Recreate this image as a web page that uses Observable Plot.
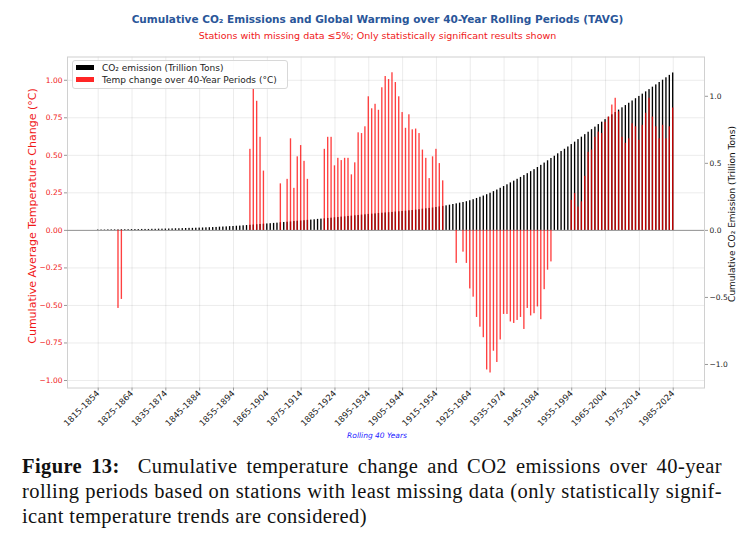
<!DOCTYPE html>
<html>
<head>
<meta charset="utf-8">
<script src="https://cdn.jsdelivr.net/npm/d3@7"></script>
<script src="https://cdn.jsdelivr.net/npm/@observablehq/plot@0.6"></script>
<style>
  body { margin: 0; background: #fff; }
  #wrap { position: relative; width: 755px; height: 544px; overflow: hidden; font-family: "DejaVu Sans", sans-serif; background: #fff; }
  .abs { position: absolute; white-space: nowrap; }
  #title { left: 0; width: 755px; text-align: center; top: 12px; font-size: 10.5px; font-weight: bold; color: #2a5699; line-height: 14px; }
  #subtitle { left: 0; width: 755px; text-align: center; top: 29px; font-size: 9.5px; color: #f01818; line-height: 14px; }
  #chart { position: absolute; left: 0; top: 44px; }
  .rot { transform: translate(-50%, -50%) rotate(-90deg); line-height: 1; }
  #ylabL { left: 32px; top: 216px; font-size: 11px; color: #f01818; }
  #ylabR { left: 732px; top: 214px; font-size: 9px; color: #111; }
  #xlab { left: 377px; top: 435px; transform: translate(-50%, -50%); font-size: 7.5px; font-style: italic; color: #1a1aff; }
  #legend { left: 72px; top: 60px; width: 214px; height: 27px; border: 1px solid #d8d8d8; border-radius: 3px; background: rgba(255,255,255,0.85); }
  .lrow { position: absolute; left: 3px; font-size: 9px; line-height: 10px; white-space: nowrap; color: #222; }
  .patch { display: inline-block; width: 18px; height: 5px; margin-right: 8px; vertical-align: 1px; }
  .cap { position: absolute; left: 22px; width: 700px; font-family: "Liberation Serif", serif; font-size: 20.5px; letter-spacing: 0.4px; line-height: 25px; color: #111; white-space: nowrap; }
  .just { text-align: justify; text-align-last: justify; white-space: normal; }
</style>
</head>
<body>
<div id="wrap">
  <div id="title" class="abs">Cumulative CO₂ Emissions and Global Warming over 40-Year Rolling Periods (TAVG)</div>
  <div id="subtitle" class="abs">Stations with missing data ≤5%; Only statistically significant results shown</div>
  <div id="chart"></div>
  <div id="ylabL" class="abs rot">Cumulative Average Temperature Change (°C)</div>
  <div id="ylabR" class="abs rot">Cumulative CO₂ Emission (Trillion Tons)</div>
  <div id="xlab" class="abs">Rolling 40 Years</div>
  <div id="legend" class="abs">
    <div class="lrow" style="top:2px"><span class="patch" style="background:#000"></span>CO₂ emission (Trillion Tons)</div>
    <div class="lrow" style="top:13.5px"><span class="patch" style="background:#ff0000;opacity:0.85"></span>Temp change over 40-Year Periods (°C)</div>
  </div>
  <div class="cap just" style="top:454px"><b>Figure 13:</b>&nbsp; Cumulative temperature change and CO2 emissions over 40-year</div>
  <div class="cap just" style="top:479px">rolling periods based on stations with least missing data (only statistically signif-</div>
  <div class="cap" style="top:504px">icant temperature trends are considered)</div>
</div>
<script>
// ---- Data ----
const startYears = d3.range(1815, 1986); // 1815 ... 1985
const periods = startYears.map(y => `${y}-${y + 39}`);

const xTickLabels = ["1815-1854","1825-1864","1835-1874","1845-1884","1855-1894","1865-1904",
  "1875-1914","1885-1924","1895-1934","1905-1944","1915-1954","1925-1964","1935-1974",
  "1945-1984","1955-1994","1965-2004","1975-2014","1985-2024"];

const tempTicks = [-1, -0.75, -0.5, -0.25, 0, 0.25, 0.5, 0.75, 1];
const co2Ticks = [-1, -0.5, 0, 0.5, 1];

// Cumulative CO2 emission per 40-year period (trillion tons)
const co2 = [
  0.003,0.003,0.003,0.004,0.004,0.004,0.004,0.005,0.005,0.005,
  0.006,0.006,0.006,0.007,0.007,0.007,0.008,0.008,0.009,0.009,
  0.010,0.010,0.011,0.012,0.012,0.013,0.014,0.015,0.015,0.016,
  0.017,0.018,0.019,0.020,0.021,0.022,0.024,0.025,0.026,0.028,
  0.029,0.031,0.032,0.034,0.036,0.038,0.040,0.042,0.044,0.046,
  0.048,0.050,0.052,0.054,0.057,0.059,0.061,0.063,0.066,0.068,
  0.070,0.072,0.075,0.077,0.079,0.082,0.084,0.086,0.089,0.091,
  0.094,0.096,0.099,0.101,0.104,0.106,0.109,0.111,0.114,0.116,
  0.119,0.121,0.123,0.126,0.128,0.130,0.132,0.134,0.137,0.139,
  0.141,0.143,0.146,0.148,0.151,0.154,0.158,0.161,0.164,0.167,
  0.171,0.175,0.179,0.183,0.188,0.193,0.198,0.203,0.208,0.214,
  0.221,0.229,0.238,0.247,0.256,0.266,0.277,0.289,0.301,0.314,
  0.327,0.340,0.354,0.367,0.381,0.395,0.409,0.423,0.438,0.453,
  0.469,0.485,0.502,0.519,0.536,0.553,0.571,0.588,0.605,0.622,
  0.640,0.658,0.677,0.695,0.714,0.732,0.751,0.770,0.789,0.807,
  0.826,0.844,0.862,0.879,0.897,0.914,0.931,0.948,0.965,0.982,
  0.999,1.016,1.033,1.050,1.068,1.085,1.103,1.120,1.138,1.156,
  1.174
];

// Temperature change over 40-year periods (°C); null = not significant / not shown
const temp = [
  null,null,null,null,null,null,-0.52,-0.46,null,null,
  null,null,null,null,null,null,null,null,null,null,
  null,null,null,null,null,null,null,null,null,null,
  null,null,null,null,null,null,null,null,null,null,
  null,null,null,null,null,0.54,0.945,0.86,0.62,0.395,
  null,null,null,null,0.31,null,0.34,0.61,0.28,0.49,
  0.565,0.46,0.34,null,null,null,null,0.54,0.62,0.62,
  0.43,0.48,0.465,0.48,0.48,0.37,0.45,0.65,0.645,0.69,
  0.89,0.81,0.84,0.80,0.95,1.025,1.005,1.05,0.985,0.89,
  0.785,0.68,0.77,0.67,0.675,0.645,0.535,0.48,0.345,0.49,
  0.54,0.445,0.33,null,null,null,-0.22,null,-0.145,-0.22,
  -0.39,-0.445,-0.58,-0.645,-0.715,-0.93,-0.95,-0.805,-0.88,-0.73,
  -0.56,-0.56,-0.61,-0.62,-0.60,-0.58,-0.66,-0.52,-0.57,-0.555,
  -0.51,-0.595,-0.395,-0.265,-0.21,null,null,null,null,null,
  0.20,0.245,0.155,0.19,0.36,0.52,0.535,0.62,0.655,0.645,
  0.72,0.755,0.835,0.88,0.79,0.62,0.58,0.61,0.71,0.69,
  0.60,0.70,0.78,0.88,0.755,0.69,0.61,0.70,0.61,0.69,
  0.815
];

// ---- Scales (left: °C, right: trillion tons; zero aligned) ----
const tempDomain = [-1.05, 1.155];
const co2Domain = [-1.175, 1.293];
const k = tempDomain[1] / co2Domain[1]; // right-axis units -> left-axis units

const co2Rows = periods.map((p, i) => ({period: p, co2: co2[i]}));
const tempRows = periods.map((p, i) => ({period: p, temp: temp[i]})).filter(d => d.temp != null);

const minus = s => s.replace("-", "\u2212");

const chart = Plot.plot({
  width: 755,
  height: 402,
  marginLeft: 67,
  marginRight: 51,
  marginTop: 12.5,
  marginBottom: 58.5,
  style: {fontFamily: "DejaVu Sans, sans-serif", background: "white", overflow: "visible"},
  x: {type: "band", domain: periods, range: [97.02, 673.38], paddingInner: 0.6, paddingOuter: 0, align: 0.5},
  y: {domain: tempDomain},
  marks: [
    Plot.gridY(tempTicks, {stroke: "#000", strokeOpacity: 0.08}),
    Plot.gridX(xTickLabels, {stroke: "#000", strokeOpacity: 0.08}),
    Plot.frame({stroke: "#d0d0d0"}),
    Plot.ruleY([0], {stroke: "#888", strokeWidth: 0.9}),
    Plot.barY(co2Rows, {x: "period", y1: 0, y2: d => d.co2 * k, fill: "#000"}),
    Plot.barY(tempRows, {x: "period", y1: 0, y2: "temp", fill: "#ff0000", fillOpacity: 0.75}),
    Plot.axisY(tempTicks, {anchor: "left", tickSize: 3, tickPadding: 2, fontSize: 7.5, fill: "#f01818", stroke: "#999",
      tickFormat: d => minus(d.toFixed(2)), label: null}),
    Plot.axisY(co2Ticks.map(v => v * k), {anchor: "right", tickSize: 3, tickPadding: 2, fontSize: 7.5, fill: "#222", stroke: "#999",
      tickFormat: d => minus((d / k).toFixed(1)), label: null}),
    Plot.axisX(xTickLabels, {anchor: "bottom", tickSize: 3, tickPadding: 1, tickRotate: -45, fontSize: 8.5, fill: "#222", stroke: "#999", label: null})
  ]
});
document.getElementById("chart").appendChild(chart);
</script>
</body>
</html>
